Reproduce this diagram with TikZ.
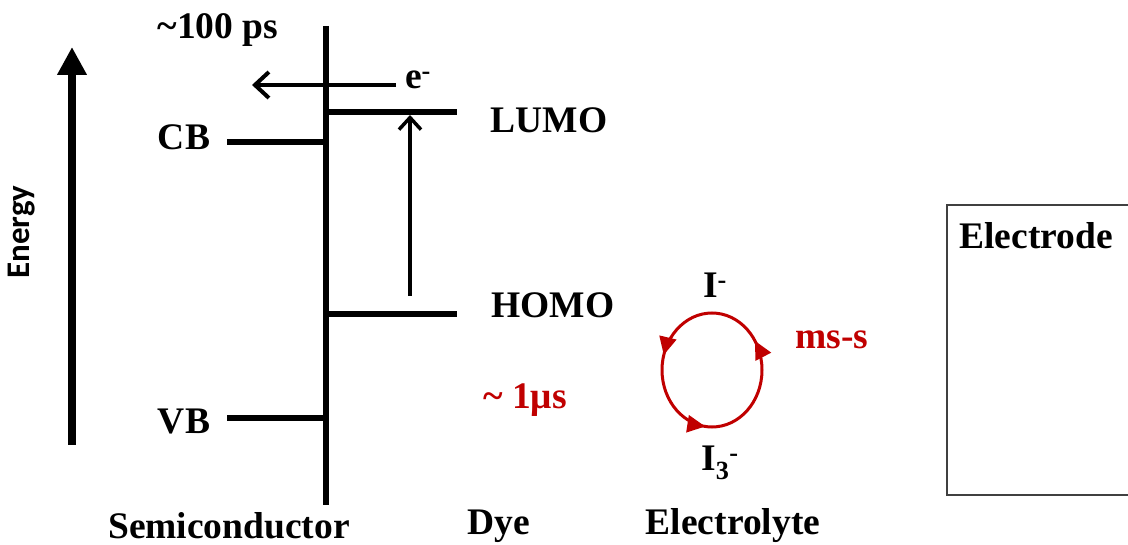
\documentclass[tikz,border=0pt]{standalone}
\usepackage{fontspec}
\setmainfont{Liberation Serif}
\newfontfamily\calfont{Carlito}
\usetikzlibrary{arrows.meta,decorations.markings}
\definecolor{dred}{HTML}{C00000}
\definecolor{boxgray}{HTML}{404040}
\tikzset{
  lbl/.style={inner sep=0pt, font=\fontsize{37.5}{42}\selectfont\bfseries},
  redlbl/.style={lbl, text=dred},
  level/.style={line width=6pt}
}
\begin{document}
\begin{tikzpicture}[x=1pt,y=1pt]
\useasboundingbox (0,0) rectangle (1128,544);
\clip (0,0) rectangle (1128,544);
% energy axis
\coordinate (eb) at (72,99);
\coordinate (et) at (72,497);
\draw[line width=8pt,-{Triangle[length=28pt,width=28pt]}] (eb) -- (et);
\node[inner sep=0pt, rotate=90, font=\fontsize{33}{38}\selectfont\calfont\bfseries] (energy) at (22,312) {Energy};
% semiconductor interface line
\coordinate (st) at (326,518);
\coordinate (sb) at (326,39);
\draw[level] (st) -- (sb);
% levels
\coordinate (cbl) at (227,402); \coordinate (cbr) at (329,402);
\coordinate (vbl) at (227,126); \coordinate (vbr) at (329,126);
\coordinate (lul) at (329,432); \coordinate (lur) at (457,432);
\coordinate (hol) at (329,230); \coordinate (hor) at (457,230);
\draw[level] (cbl) -- (cbr);
\draw[level] (vbl) -- (vbr);
\draw[level] (lul) -- (lur);
\draw[level] (hol) -- (hor);
% electron injection arrow
\coordinate (ia) at (396,459);
\coordinate (ib) at (252,459);
\draw[line width=4pt,-{Straight Barb[length=14pt,width=26pt]}] (ia) -- (ib);
% excitation arrow
\coordinate (xa) at (410,248);
\coordinate (xb) at (410,429);
\draw[line width=3.5pt,-{Straight Barb[length=12pt,width=22pt]}] (xa) -- (xb);
% labels
\node[lbl] (t100) at (218,514) {\textasciitilde100 ps};
\node[lbl] (elec) at (418,464) {e\textsuperscript{-}};
\node[lbl] (cb) at (184,407) {CB};
\node[lbl] (vb) at (184,122) {VB};
\node[lbl] (lumo) at (549,424) {LUMO};
\node[lbl] (homo) at (553,239) {HOMO};
\node[lbl] (iminus) at (715,259) {I\textsuperscript{-}};
\node[lbl] (ithree) at (720,81) {I\textsubscript{3}\textsuperscript{-}};
\node[redlbl] (mss) at (832,204) {ms-s};
\node[redlbl] (onemus) at (525,144) {\textasciitilde{} 1μs};
\node[lbl] (semi) at (229,18) {Semiconductor};
\node[lbl] (dye) at (499,18) {Dye};
\node[lbl] (elyte) at (733,18) {Electrolyte};
% redox cycle
\draw[dred, line width=3pt, postaction={decorate}, decoration={markings,
   mark=at position 0.09 with {\arrow{Triangle[length=18pt,width=17pt]}},
   mark=at position 0.455 with {\arrow{Triangle[length=18pt,width=17pt]}},
   mark=at position 0.73 with {\arrow{Triangle[length=18pt,width=17pt]}}}]
  (712,174) ellipse [x radius=50, y radius=57];
% electrode
\coordinate (bo1) at (1140,339);
\coordinate (bo2) at (947,339);
\coordinate (bo3) at (947,49);
\coordinate (bo4) at (1140,49);
\draw[boxgray, line width=2pt] (bo1) -- (bo2) -- (bo3) -- (bo4);
\node[lbl] (electrode) at (1036,308) {Electrode};
\end{tikzpicture}
\end{document}
